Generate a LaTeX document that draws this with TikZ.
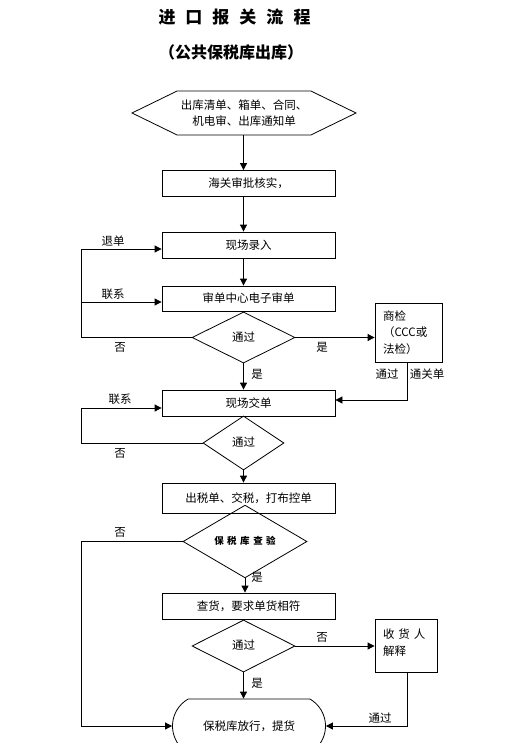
\documentclass[tikz,border=0pt]{standalone}
\usepackage{fontspec}
\setmainfont{Noto Sans CJK SC}
\usetikzlibrary{shapes,arrows.meta,positioning,calc}

\tikzset{
  box/.style={draw, line width=0.8pt, minimum width=173pt, minimum height=26pt, inner sep=0pt},
  choice/.style={draw, diamond, line width=0.8pt, inner sep=0pt},
  side/.style={draw, line width=0.8pt, align=left, inner xsep=8pt, inner ysep=0pt},
  arr/.style={-{Triangle[length=7pt,width=7pt]}, line width=0.8pt},
  lab/.style={inner sep=0pt}
}

\begin{document}
\begin{tikzpicture}[x=1pt, y=-1pt, font=\fontsize{11.5}{16.5}\selectfont]
    \useasboundingbox (0,0) rectangle (512,743);

    % Title
    \node[font=\fontsize{17}{20}\selectfont\bfseries] (title) at (234.5,17)
        {进\hspace{10pt}口\hspace{10pt}报\hspace{10pt}关\hspace{10pt}流\hspace{10pt}程};
    \node[font=\fontsize{16}{20}\selectfont\bfseries] (subtitle) at (231,52) {（公共保税库出库）};

    % Main column
    \node[draw, line width=0.8pt, signal, signal to=east and west, signal pointer angle=52,
          minimum width=224pt, minimum height=44pt, inner sep=0pt, align=center] (docs) at (244,113)
        {出库清单、箱单、合同、\\机电审、出库通知单};
    \node[box] (check) at (248.5,183.5) {海关审批核实，};
    \node[box] (entry) at (248.5,245) {现场录入};
    \node[box, minimum height=25pt] (review) at (248.5,298.5) {审单中心电子审单};
    \node[choice, minimum width=103pt, minimum height=51pt] (pass1) at (243.5,337.5) {通过};
    \node[box] (submit) at (248.5,403) {现场交单};
    \node[choice, minimum width=81pt, minimum height=54pt] (pass2) at (243.5,443) {\raisebox{3pt}{通过}};
    \node[box, minimum height=30pt] (tax) at (248.5,498) {出税单、交税，打布控单};
    \node[choice, minimum width=124pt, minimum height=55pt,
          font=\fontsize{9.5}{10}\selectfont\bfseries] (inspect) at (245,541.5)
        {\raisebox{3pt}{保\hspace{3.5pt}税\hspace{3.5pt}库\hspace{3.5pt}查\hspace{3.5pt}验}};
    \node[box] (goods) at (248.5,606) {查货，要求单货相符};
    \node[choice, minimum width=103pt, minimum height=52pt] (pass3) at (243.5,646) {\raisebox{3pt}{通过}};
    \node[draw, line width=0.8pt, rounded rectangle, rounded rectangle arc length=120,
          minimum width=153pt, minimum height=54pt, inner sep=0pt] (release) at (249,726)
        {保税库放行，提货};

    % Side boxes
    \node[side, text width=51pt, minimum height=59pt] (ciq) at (408.5,332.5) {商检\\（CCC或\\法检）};
    \node[side, text width=46pt, minimum height=53pt] (owner) at (406,645.5)
        {收\hspace{4pt}货\hspace{4pt}人\\解释\vspace{6pt}};

    % Loop column on the left
    \coordinate (loop) at (81,0);

    % Connectors
    \draw[arr] (docs.south -| pass1) -- (check.north -| pass1);
    \draw[arr] (check.south -| pass1) -- (entry.north -| pass1);
    \draw[arr] (entry.south -| pass1) -- (review.north -| pass1);
    \draw[arr] (pass1.west) -- (pass1.west -| loop) |- ([yshift=-4pt]entry.west);
    \draw[arr] ([yshift=-3.5pt]review.west -| loop) -- ([yshift=-3.5pt]review.west);
    \draw[arr] (pass1.east) -- (pass1.east -| ciq.west);
    \draw[arr] (pass1.south) -- (submit.north -| pass1);
    \draw[arr] ([xshift=-1.5pt]ciq.south) |- ([yshift=3pt]submit.east);
    \draw[arr] (pass2.west) -- (pass2.west -| loop) |- ([yshift=-5pt]submit.west);
    \draw[arr] (pass2.south) -- (tax.north -| pass2);
    \draw[arr] (inspect.west) -- (inspect.west -| loop) |- (release.west);
    \draw[arr] (inspect.south) -- (goods.north -| inspect);
    \draw[arr] (pass3.east) -- (pass3.east -| owner.west);
    \draw[arr] (pass3.south) -- (release.north -| pass3);
    \draw[arr] ([xshift=1pt]owner.south) |- (release.east);

    % Labels
    \node[lab] (l-back) at (113,241) {退单};
    \node[lab] (l-call1) at (113,294) {联系};
    \node[lab] (l-no1) at (120,347) {否};
    \node[lab] (l-yes1) at (322,347) {是};
    \node[lab] (l-yes2) at (257,374) {是};
    \node[lab] (l-ok1) at (387,374) {通过};
    \node[lab] (l-cert) at (427,374) {通关单};
    \node[lab] (l-call2) at (120,399) {联系};
    \node[lab] (l-no2) at (120,453) {否};
    \node[lab] (l-no3) at (120,532) {否};
    \node[lab] (l-yes3) at (257,577) {是};
    \node[lab] (l-no4) at (322,637) {否};
    \node[lab] (l-yes4) at (257,683) {是};
    \node[lab] (l-ok2) at (380,718) {通过};
\end{tikzpicture}
\end{document}
